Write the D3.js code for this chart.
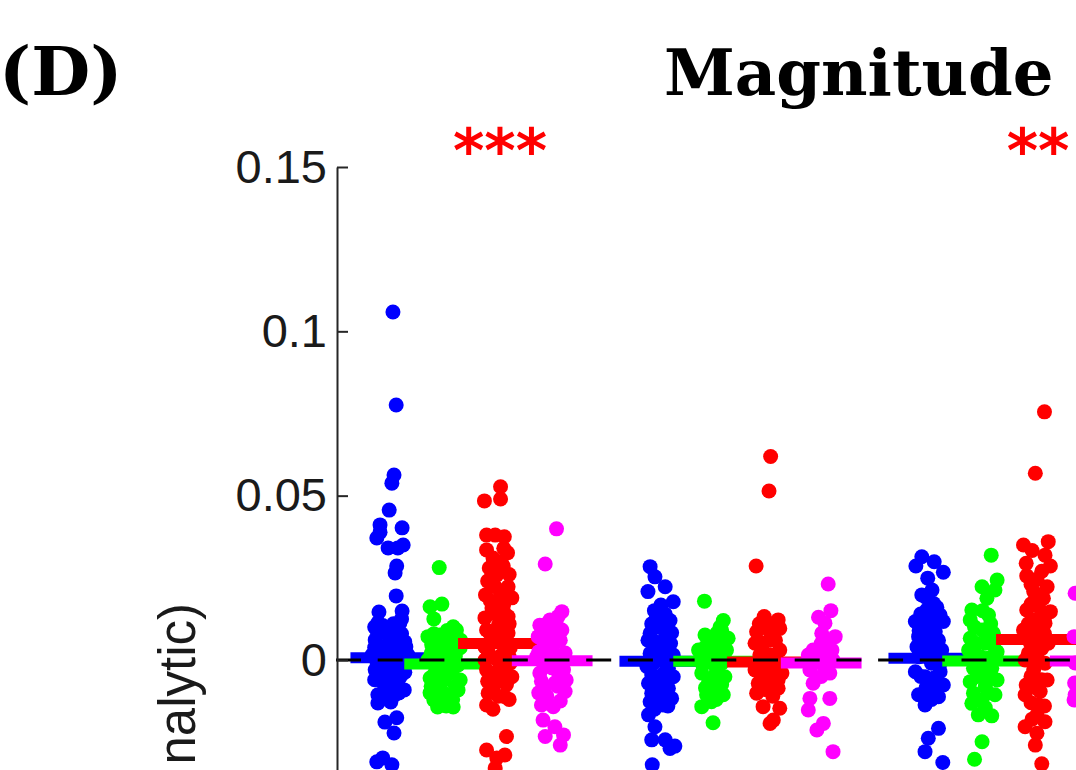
<!DOCTYPE html>
<html>
<head>
<meta charset="utf-8">
<script src="https://cdn.jsdelivr.net/npm/d3@7"></script>
<style>
body { margin: 0; background: #fff; }
svg { display: block; }
</style>
</head>
<body>
<svg id="chart" width="1076" height="770"></svg>
<script>

var seriesColors = ['rgb(0,0,255)', 'rgb(0,255,0)', 'rgb(255,0,0)', 'rgb(255,0,255)'];
var yTicks = [0, 0.05, 0.1, 0.15];
var yTickLabels = ['0', '0.05', '0.1', '0.15'];
var sigLabels = ['***', '', '**'];

// mean bar of each series, one value per group
var blueMeans = [0.0007, -0.0004, 0.0005];
var greenMeans = [-0.0012, -0.0004, -0.0003];
var redMeans = [0.0050, -0.0006, 0.0062];
var magentaMeans = [-0.0002, -0.0009, -0.0003];

// [jitter, value], jitter in column units
var g1Blue = [[0.04,0.1059],[0.10,0.0776],[0.06,0.0563],[0.02,0.0538],[-0.03,0.0456],[-0.20,0.0411],[0.21,0.0402],[-0.20,0.0389],[-0.26,0.0371],[-0.05,0.0341],[0.23,0.0350],[0.13,0.0341],[0.11,0.0286],[0.08,0.0265],[0.10,0.0195],[-0.22,0.0146],[0.21,0.0149],[0.17,0.0113],[-0.24,0.0113],[-0.11,0.0091],[0.08,0.0097],[-0.29,0.0061],[0.26,0.0055],[-0.05,0.0046],[0.13,0.0037],[-0.20,0.0030],[-0.35,0.0015],[0.32,0.0015],[0.02,0.0009],[-0.15,-0.0006],[0.17,-0.0015],[-0.29,-0.0030],[0.26,-0.0037],[0.00,-0.0046],[-0.20,-0.0061],[0.13,-0.0067],[-0.11,-0.0085],[0.25,-0.0091],[-0.24,-0.0106],[0.08,-0.0106],[-0.24,-0.0131],[0.00,-0.0128],[-0.11,-0.0189],[0.11,-0.0176],[0.06,-0.0222],[-0.26,-0.0310],[-0.15,-0.0298],[0.02,-0.0319],[-0.05,0.0076],[0.02,-0.0024],[-0.09,0.0024],[0.10,0.0061],[0.00,-0.0097],
	[-0.15,0.0105],[0.05,0.0110],[-0.25,0.0085],[0.20,0.0080],[-0.02,0.0062],[0.28,0.0040],[-0.30,0.0038],[-0.12,0.0040],[0.10,0.0025],[0.22,0.0010],[-0.25,-0.0010],[0.05,-0.0012],[-0.08,-0.0035],[0.18,-0.0050],[-0.30,-0.0060],[-0.05,-0.0070],[0.15,-0.0100],[-0.15,-0.0115],[0.20,0.0125],[-0.30,0.0100]];
var g1Green = [[-0.10,0.0281],[-0.27,0.0162],[-0.05,0.0170],[-0.20,0.0125],[0.16,0.0101],[0.22,0.0091],[-0.31,0.0071],[-0.09,0.0076],[-0.27,-0.0100],[-0.13,-0.0143],[0.16,-0.0143],[0.25,-0.0091],[-0.24,0.0046],[0.10,0.0055],[0.29,0.0037],[-0.09,0.0024],[-0.31,0.0000],[0.03,0.0000],[0.25,-0.0015],[-0.16,-0.0024],[0.14,-0.0037],[-0.27,-0.0055],[-0.01,-0.0061],[0.29,-0.0061],[-0.12,-0.0085],[0.10,-0.0106],[-0.20,-0.0122],[0.03,-0.0140],[-0.05,0.0061],[0.17,0.0018],
	[0.05,0.0090],[-0.20,0.0080],[0.20,0.0050],[-0.05,0.0035],[-0.25,0.0020],[0.20,0.0012],[-0.10,-0.0008],[0.10,-0.0020],[-0.20,-0.0045],[0.05,-0.0045],[0.20,-0.0080],[-0.05,-0.0095],[-0.25,-0.0080],[0.15,-0.0120],[-0.10,-0.0128],[0.30,0.0060]];
var g1Red = [[0.04,0.0527],[0.04,0.0490],[-0.26,0.0484],[-0.22,0.0380],[-0.06,0.0380],[0.11,0.0375],[-0.22,0.0335],[0.17,0.0326],[-0.17,0.0280],[0.09,0.0286],[-0.03,0.0259],[0.18,0.0223],[-0.06,0.0223],[-0.24,0.0198],[0.25,0.0189],[-0.03,0.0173],[-0.12,0.0158],[0.18,0.0132],[-0.25,0.0128],[0.03,0.0128],[-0.22,0.0091],[0.18,0.0082],[-0.19,0.0025],[0.06,0.0015],[0.22,-0.0009],[-0.22,-0.0030],[0.25,-0.0051],[-0.06,-0.0061],[-0.19,-0.0101],[0.12,-0.0112],[-0.22,-0.0137],[0.15,-0.0233],[-0.22,-0.0274],[-0.03,-0.0298],[0.12,-0.0289],[-0.06,-0.0329],[-0.12,0.0061],[0.12,0.0046],[0.00,0.0106],[-0.25,0.0000],[0.03,-0.0024],[-0.10,-0.0085],[0.22,0.0037],[0.09,0.0152],[-0.16,0.0243],
	[0.10,0.0340],[-0.10,0.0310],[0.05,0.0300],[-0.20,0.0240],[0.20,0.0260],[0.05,0.0200],[-0.15,0.0180],[0.10,0.0170],[-0.05,0.0140],[0.20,0.0110],[-0.15,0.0080],[0.05,0.0070],[-0.25,0.0040],[0.20,0.0010],[-0.05,0.0005],[-0.15,-0.0040],[0.10,-0.0045],[0.15,-0.0075],[-0.20,-0.0065],[0.00,-0.0110],[-0.10,-0.0150],[0.20,-0.0120]];
var g1Magenta = [[0.08,0.0399],[-0.13,0.0292],[0.18,0.0147],[0.11,0.0132],[-0.23,0.0106],[-0.04,0.0122],[0.18,0.0091],[-0.26,0.0071],[0.05,0.0052],[0.24,0.0021],[-0.29,0.0010],[-0.13,-0.0005],[0.21,-0.0030],[-0.23,-0.0040],[0.05,-0.0070],[0.24,-0.0096],[-0.20,-0.0137],[0.02,-0.0142],[-0.17,-0.0183],[0.05,-0.0203],[-0.13,-0.0233],[0.21,-0.0228],[0.15,-0.0259],[-0.08,0.0037],[0.15,0.0000],[-0.15,-0.0091],[0.00,-0.0024],[0.26,-0.0061],
	[-0.10,0.0110],[0.10,0.0100],[-0.20,0.0080],[0.00,0.0080],[0.15,0.0060],[-0.15,0.0050],[-0.25,0.0025],[0.05,0.0015],[-0.05,-0.0010],[0.10,-0.0035],[-0.20,-0.0065],[0.10,-0.0080],[-0.10,-0.0110],[0.15,-0.0125],[-0.25,-0.0100]];

var g2Blue = [[-0.18,0.0284],[-0.09,0.0253],[0.10,0.0223],[-0.22,0.0208],[0.25,0.0177],[0.02,0.0167],[-0.06,0.0132],[0.19,0.0120],[0.22,0.0083],[-0.18,0.0081],[0.04,0.0097],[-0.09,0.0056],[0.16,0.0040],[-0.18,0.0020],[0.25,0.0015],[-0.03,0.0000],[-0.24,-0.0020],[0.16,-0.0025],[-0.03,-0.0051],[0.25,-0.0051],[-0.21,-0.0071],[0.16,-0.0086],[-0.15,-0.0101],[0.22,-0.0117],[0.04,-0.0112],[-0.18,-0.0127],[0.06,-0.0137],[-0.21,-0.0167],[-0.09,-0.0203],[-0.15,-0.0243],[0.10,-0.0243],[0.19,-0.0269],[0.28,-0.0262],[-0.14,-0.0319],
	[-0.10,0.0150],[0.10,0.0140],[-0.15,0.0110],[0.10,0.0065],[-0.05,0.0040],[0.05,0.0020],[-0.12,-0.0010],[0.08,-0.0040],[-0.15,-0.0045],[0.05,-0.0075],[-0.08,-0.0090],[0.15,-0.0140],[-0.10,-0.0150],[0.20,0.0050],[-0.22,0.0060]];
var g2Green = [[-0.17,0.0179],[0.18,0.0120],[0.12,0.0100],[-0.16,0.0076],[0.06,0.0081],[0.27,0.0066],[-0.05,0.0055],[-0.28,0.0030],[0.03,0.0036],[0.24,0.0030],[-0.13,0.0000],[0.15,-0.0010],[-0.22,-0.0040],[0.03,-0.0046],[0.21,-0.0051],[-0.10,-0.0071],[0.09,-0.0091],[-0.13,-0.0106],[0.18,-0.0106],[-0.22,-0.0142],[-0.04,-0.0127],[-0.01,-0.0191],
	[0.00,0.0070],[0.15,0.0045],[-0.15,0.0040],[-0.05,0.0015],[0.10,0.0010],[-0.20,-0.0015],[0.05,-0.0025],[-0.05,-0.0060],[0.15,-0.0075],[-0.15,-0.0085],[0.05,-0.0120],[0.15,0.0090]];
var g2Red = [[0.06,0.0619],[0.03,0.0514],[-0.21,0.0286],[-0.06,0.0132],[0.20,0.0122],[-0.20,0.0086],[0.05,0.0086],[0.23,0.0096],[-0.23,0.0051],[-0.08,0.0051],[0.23,0.0030],[-0.14,0.0015],[0.11,0.0000],[-0.23,-0.0030],[0.02,-0.0030],[0.27,-0.0040],[-0.17,-0.0071],[0.11,-0.0076],[-0.20,-0.0101],[0.20,-0.0086],[-0.08,-0.0142],[0.23,-0.0147],[0.11,-0.0183],[0.05,-0.0193],
	[0.10,0.0110],[-0.15,0.0110],[0.05,0.0060],[-0.10,0.0030],[0.15,0.0060],[0.05,0.0015],[-0.08,-0.0010],[0.15,-0.0020],[-0.12,-0.0045],[0.05,-0.0055],[0.20,-0.0060],[-0.05,-0.0090],[0.10,-0.0110],[-0.15,-0.0080]];
var g2Magenta = [[0.13,0.0231],[0.18,0.0150],[-0.05,0.0130],[0.07,0.0112],[0.01,0.0081],[0.26,0.0071],[-0.24,0.0015],[-0.02,0.0030],[0.20,0.0030],[-0.12,-0.0005],[0.10,-0.0010],[-0.21,-0.0030],[0.16,-0.0040],[-0.15,-0.0071],[-0.21,-0.0117],[0.16,-0.0117],[-0.24,-0.0152],[0.04,-0.0193],[-0.08,-0.0213],[0.22,-0.0279],
	[0.00,0.0050],[-0.15,0.0030],[0.10,0.0015],[-0.05,0.0005],[0.05,-0.0020],[-0.15,-0.0010],[0.22,0.0000],[0.00,-0.0050],[0.12,0.0050]];

var g3Blue = [[-0.13,0.0314],[0.10,0.0299],[-0.24,0.0286],[0.27,0.0267],[-0.02,0.0249],[0.06,0.0213],[-0.13,0.0198],[0.09,0.0172],[-0.04,0.0152],[0.21,0.0137],[-0.25,0.0117],[0.27,0.0117],[-0.07,0.0101],[0.12,0.0086],[-0.19,0.0071],[0.06,0.0056],[0.24,0.0030],[-0.22,0.0040],[-0.07,0.0015],[0.12,-0.0005],[-0.25,-0.0036],[0.21,-0.0036],[-0.07,-0.0051],[0.27,-0.0076],[0.06,-0.0081],[-0.19,-0.0106],[0.18,-0.0112],[-0.07,-0.0137],[0.18,-0.0208],[-0.01,-0.0238],[-0.07,-0.0279],[0.26,-0.0312],
	[-0.05,0.0190],[0.15,0.0160],[-0.15,0.0140],[0.05,0.0120],[-0.18,0.0090],[0.18,0.0060],[-0.05,0.0070],[-0.12,0.0040],[0.10,0.0025],[-0.18,0.0010],[0.05,-0.0010],[0.20,-0.0015],[-0.15,-0.0050],[0.10,-0.0055],[-0.05,-0.0085],[0.15,-0.0090],[-0.10,-0.0110],[0.05,-0.0120]];
var g3Green = [[0.16,0.0319],[0.27,0.0243],[-0.01,0.0223],[0.23,0.0213],[0.08,0.0188],[-0.20,0.0152],[0.11,0.0137],[-0.23,0.0122],[-0.01,0.0091],[0.20,0.0081],[-0.23,0.0066],[0.05,0.0051],[0.27,0.0025],[-0.26,0.0030],[-0.04,0.0010],[-0.17,-0.0025],[0.17,-0.0025],[-0.01,-0.0046],[-0.23,-0.0066],[0.27,-0.0061],[0.05,-0.0081],[-0.17,-0.0101],[0.23,-0.0106],[-0.01,-0.0122],[-0.20,-0.0132],[-0.08,-0.0167],[0.17,-0.0170],[-0.01,-0.0249],[-0.15,-0.0302],
	[0.00,0.0150],[0.15,0.0110],[-0.15,0.0100],[0.10,0.0060],[-0.10,0.0050],[0.20,0.0045],[-0.15,0.0010],[0.10,0.0005],[0.00,-0.0020],[-0.10,-0.0050],[0.15,-0.0045],[0.10,-0.0100],[-0.10,-0.0120],[0.05,-0.0145]];
var g3Red = [[0.15,0.0755],[-0.02,0.0568],[0.22,0.0360],[-0.24,0.0350],[-0.08,0.0333],[0.16,0.0319],[0.26,0.0286],[-0.19,0.0294],[-0.18,0.0256],[0.01,0.0246],[0.20,0.0223],[-0.05,0.0208],[0.13,0.0188],[-0.18,0.0152],[0.26,0.0147],[0.04,0.0162],[-0.05,0.0122],[0.16,0.0112],[-0.24,0.0091],[0.07,0.0081],[-0.11,0.0051],[0.22,0.0051],[0.01,0.0020],[-0.21,0.0000],[0.16,-0.0010],[-0.05,-0.0030],[0.20,-0.0061],[-0.19,-0.0076],[-0.21,-0.0106],[0.07,-0.0096],[0.04,-0.0137],[0.01,-0.0167],[0.16,-0.0188],[-0.21,-0.0203],[0.01,-0.0223],[-0.02,-0.0259],[0.10,-0.0316],
	[0.10,0.0270],[-0.10,0.0230],[0.10,0.0190],[-0.10,0.0170],[0.15,0.0130],[-0.15,0.0110],[0.00,0.0100],[0.15,0.0080],[-0.10,0.0070],[0.10,0.0035],[-0.15,0.0020],[0.05,-0.0005],[-0.10,-0.0050],[0.10,-0.0060],[0.00,-0.0085],[-0.10,-0.0130],[0.15,-0.0140],[-0.08,-0.0180]];
var g3Magenta = [[-0.28,0.0203],[-0.30,0.0071],[-0.28,-0.0009],[-0.29,-0.0070],[-0.28,-0.0106],[-0.30,-0.0122]];

var groupPoints = [
	[g1Blue, g1Green, g1Red, g1Magenta],
	[g2Blue, g2Green, g2Red, g2Magenta],
	[g3Blue, g3Green, g3Red, g3Magenta]
];
var seriesMeans = [blueMeans, greenMeans, redMeans, magentaMeans];

var drawChart = function (id) {

	var svg = d3.select(id);

	// one unit per column, 5 units per group, axis sits at -1
	var x = d3.scaleLinear().domain([-1, 12]).range([337, 1036.4]);
	var y = d3.scaleLinear().domain([-0.05, 0.15]).range([824.3, 167]);
	var col = function (g, s) { return g * 5 + s; };

	svg.append('rect')
		.attr('width', 1076)
		.attr('height', 770)
		.attr('fill', 'white');

	var plot = svg.append('g');

	for (var g = 0; g < groupPoints.length; g++) {
		for (var s = 0; s < seriesColors.length; s++) {
			var c = col(g, s);
			plot.append('g')
				.selectAll('circle')
				.data(groupPoints[g][s])
				.enter()
				.append('circle')
				.attr('cx', function (d) { return x(c + d[0]); })
				.attr('cy', function (d) { return y(d[1]); })
				.attr('r', 7.5)
				.attr('fill', seriesColors[s]);

			plot.append('line')
				.attr('x1', x(c - 0.75))
				.attr('x2', x(c + 0.75))
				.attr('y1', y(seriesMeans[s][g]))
				.attr('y2', y(seriesMeans[s][g]))
				.attr('stroke', seriesColors[s])
				.attr('stroke-width', 11);
		}
	}

	// zero reference
	plot.append('line')
		.attr('x1', x(-1) - 1)
		.attr('x2', 1076)
		.attr('y1', y(0))
		.attr('y2', y(0))
		.attr('stroke', 'black')
		.attr('stroke-width', 3)
		.attr('stroke-dasharray', '25,16.7');

	var yAxis = d3.axisLeft(y)
		.tickValues(yTicks)
		.tickFormat(function (d, i) { return yTickLabels[i]; })
		.tickSizeInner(-11)
		.tickSizeOuter(0)
		.tickPadding(10);

	var ax = svg.append('g')
		.attr('transform', 'translate(' + x(-1) + ',0)')
		.call(yAxis);
	ax.select('.domain').attr('stroke', '#262626').attr('stroke-width', 2);
	ax.selectAll('.tick line').attr('stroke', '#262626').attr('stroke-width', 2);
	ax.selectAll('.tick text')
		.attr('fill', '#1a1a1a')
		.style('font-family', '"Liberation Sans", Arial, sans-serif')
		.style('font-size', '47px');

	svg.append('text')
		.attr('transform', 'translate(195,603) rotate(-90)')
		.attr('text-anchor', 'end')
		.style('font-family', '"Liberation Sans", Arial, sans-serif')
		.style('font-size', '51px')
		.attr('fill', '#1a1a1a')
		.text('nalytic)');

	svg.selectAll('.sig')
		.data(sigLabels)
		.enter()
		.append('text')
		.attr('class', 'sig')
		.attr('x', function (d, i) { return x(col(i, 2) + 0.03); })
		.attr('y', 172)
		.attr('text-anchor', 'middle')
		.attr('fill', 'rgb(255,0,0)')
		.style('font-family', '"DejaVu Sans", sans-serif')
		.style('font-weight', 'bold')
		.style('font-size', '60px')
		.text(function (d) { return d; });

	svg.append('text')
		.attr('x', -1)
		.attr('y', 95)
		.style('font-family', '"DejaVu Serif", serif')
		.style('font-weight', 'bold')
		.style('font-size', '68px')
		.text('(D)');

	svg.append('text')
		.attr('x', 664)
		.attr('y', 95)
		.style('font-family', '"DejaVu Serif", serif')
		.style('font-weight', 'bold')
		.style('font-size', '64px')
		.text('Magnitude');
}

window.onload = function () {
	drawChart('#chart');
}
</script>
</body>
</html>
